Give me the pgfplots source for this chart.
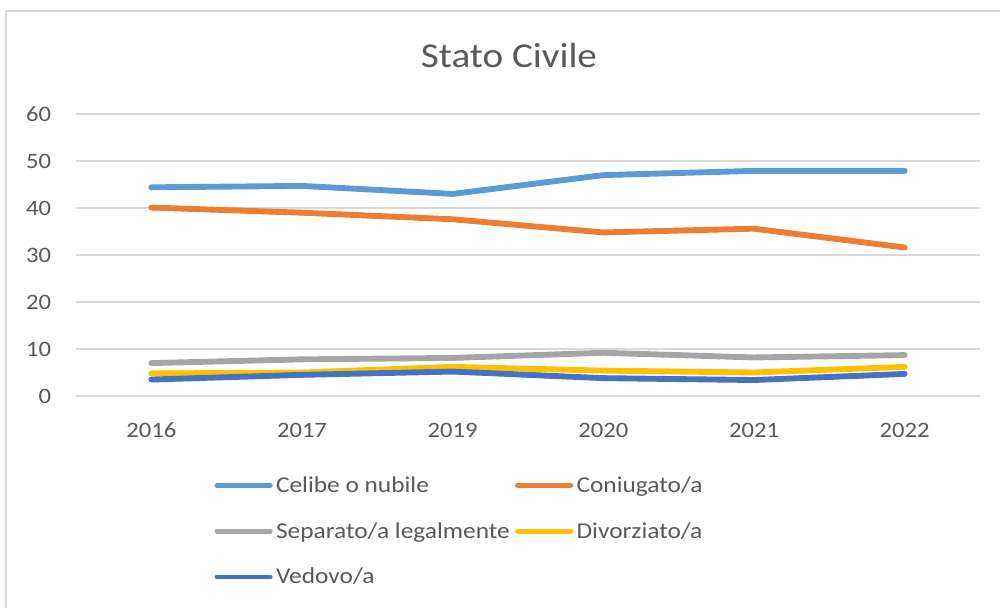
\documentclass[border=0pt]{standalone}
\usepackage{fontspec}
\setmainfont{Carlito}[FakeStretch=1.12]
\usepackage{pgfplots}
\pgfplotsset{compat=1.18}

\definecolor{txt}{HTML}{595959}
\definecolor{gridc}{HTML}{D9D9D9}
\definecolor{cCel}{HTML}{5B9BD5}
\definecolor{cCon}{HTML}{ED7D31}
\definecolor{cSep}{HTML}{A5A5A5}
\definecolor{cDiv}{HTML}{FFC000}
\definecolor{cVed}{HTML}{4472C4}

\begin{document}
\begin{tikzpicture}
% page frame, 1000 x 608 px at 0.75pt per px
\useasboundingbox (0pt,0pt) rectangle (750pt,456pt);
\draw[gridc, line width=1.5pt] (4.5pt,0pt) -- (4.5pt,447.75pt) -- (750pt,447.75pt);
\node[anchor=base, text=txt, font=\fontsize{26.2pt}{31pt}\selectfont] at (381.75pt,405pt) {Stato Civile};

\begin{axis}[
    at={(57pt,159pt)}, anchor=south west,
    scale only axis,
    width=678pt, height=211.5pt,
    xmin=-0.5, xmax=5.5,
    ymin=0, ymax=60,
    xtick={0,1,2,3,4,5},
    xticklabels={2016,2017,2019,2020,2021,2022},
    ytick={0,10,...,60},
    axis line style={draw=none},
    tick style={draw=none},
    ymajorgrids,
    grid style={draw=gridc, line width=1.2pt},
    /pgf/number format/assume math mode=true,
    tick label style={text=txt, font=\fontsize{16.5pt}{20pt}\selectfont},
    xticklabel style={anchor=base, yshift=-31pt},
    yticklabel style={anchor=east, inner sep=0pt, xshift=-18.5pt},
    clip=false,
    legend columns=2,
    legend cell align=left,
    legend style={
        at={(0.153,-0.285)}, anchor=north west,
        draw=none, fill=none,
        text=txt,
        font=\fontsize{17pt}{20pt}\selectfont,
        inner sep=0pt,
        row sep=21pt,
        nodes={inner xsep=2.5pt, inner ysep=0pt},
        /tikz/every even column/.append style={column sep=1.5pt},
    },
    legend image code/.code={
        \draw[line width=3.6pt, line cap=round] (0pt,0pt) -- (40pt,0pt);
    },
    every axis plot/.append style={line width=4.4pt, line cap=round, line join=round},
]
\addplot[cCel] coordinates {(0,44.4) (1,44.7) (2,43.0) (3,47.0) (4,47.9) (5,47.9)};
\addlegendentry{Celibe o nubile}
\addplot[cCon] coordinates {(0,40.1) (1,39.0) (2,37.6) (3,34.8) (4,35.6) (5,31.6)};
\addlegendentry{Coniugato/a}
\addplot[cSep] coordinates {(0,7.0) (1,7.8) (2,8.1) (3,9.2) (4,8.2) (5,8.7)};
\addlegendentry{Separato/a legalmente}
\addplot[cDiv] coordinates {(0,4.8) (1,5.0) (2,6.2) (3,5.4) (4,5.0) (5,6.2)};
\addlegendentry{Divorziato/a}
\addplot[cVed] coordinates {(0,3.5) (1,4.5) (2,5.2) (3,3.8) (4,3.4) (5,4.7)};
\addlegendentry{Vedovo/a}
\end{axis}
\end{tikzpicture}
\end{document}
